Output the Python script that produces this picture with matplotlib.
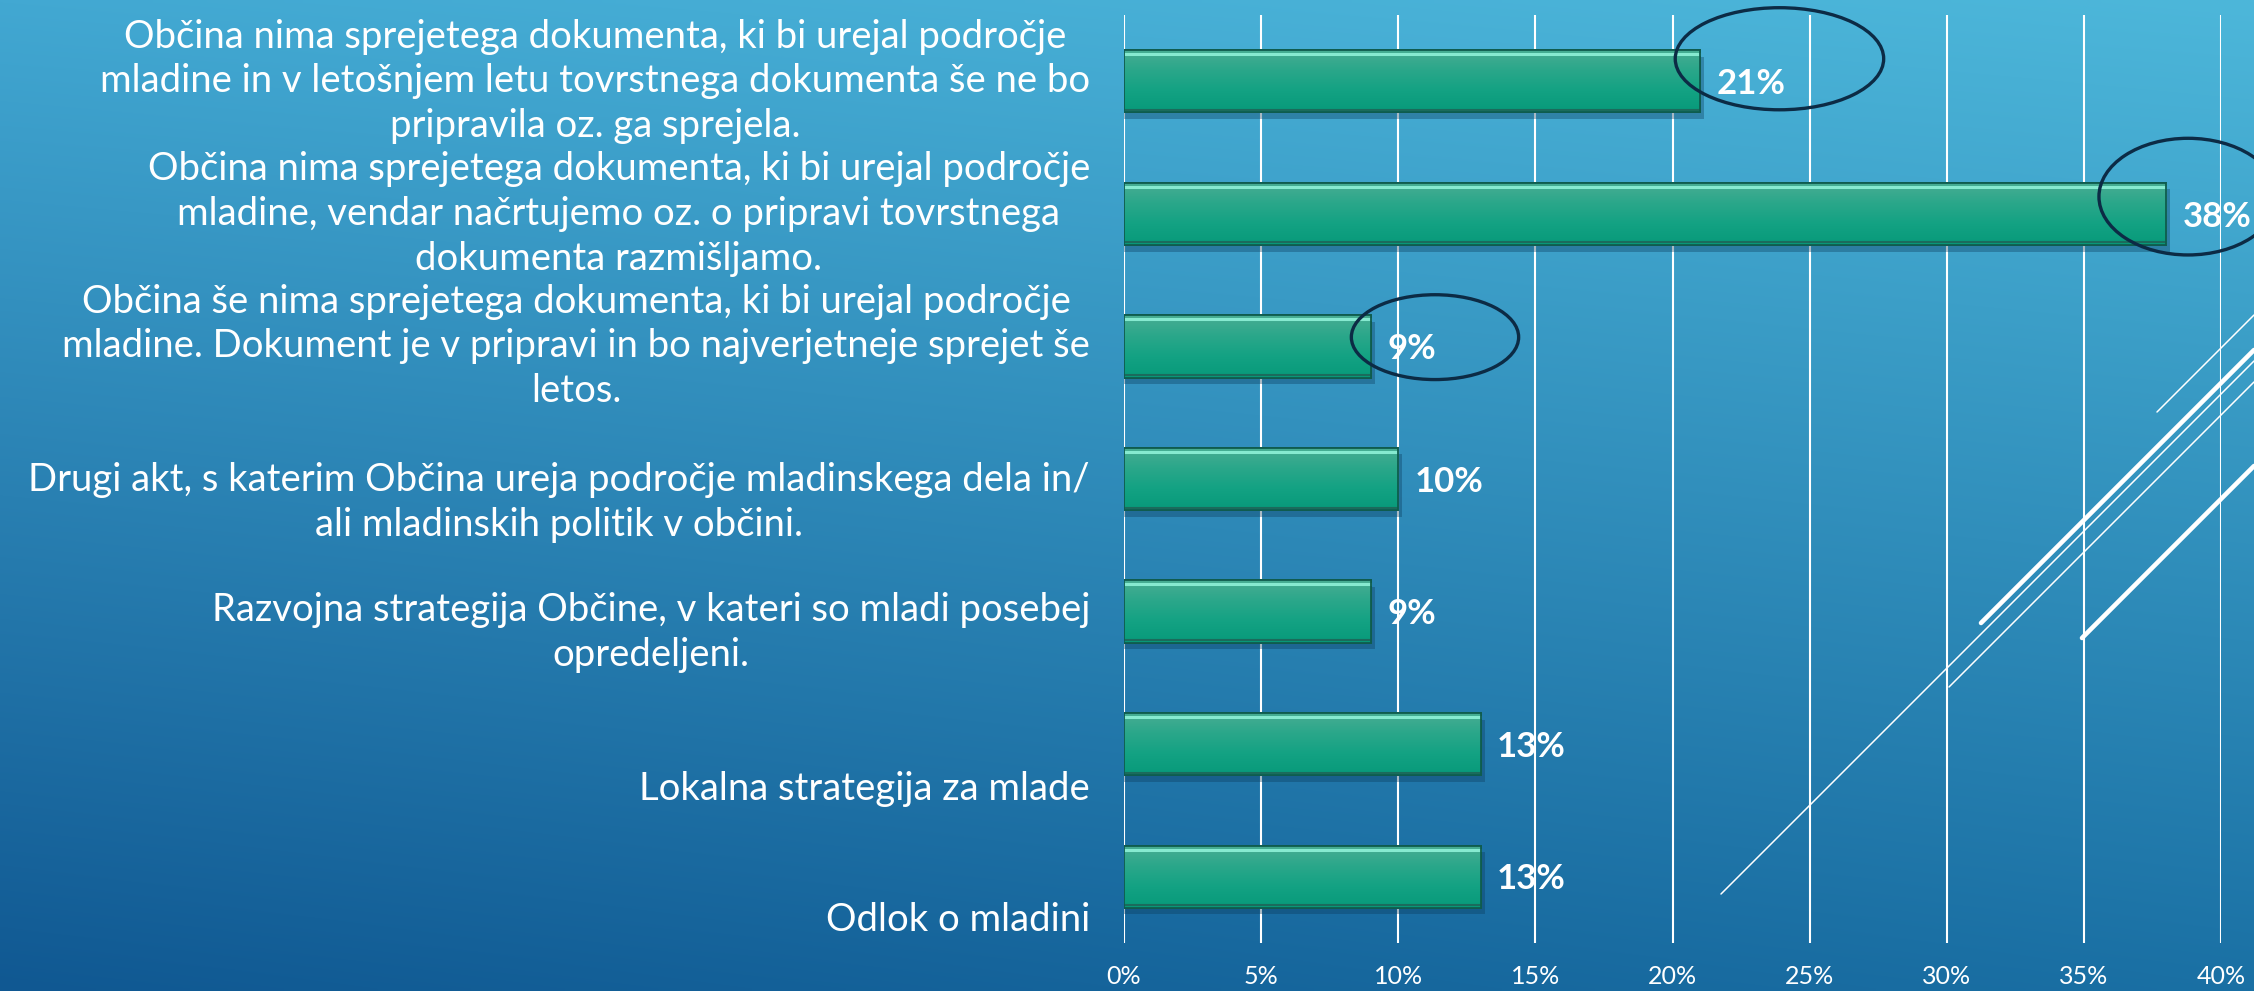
import numpy as np
import matplotlib
matplotlib.use('Agg')
import matplotlib.pyplot as plt
from matplotlib.patches import Ellipse
from matplotlib.colors import LinearSegmentedColormap
import matplotlib.transforms as mtransforms

# ── podatki ──────────────────────────────────────────────────────────────────
LABELS = [
    "Občina nima sprejetega dokumenta, ki bi urejal področje\n"
    "mladine in v letošnjem letu tovrstnega dokumenta še ne bo\n"
    "pripravila oz. ga sprejela.",
    "Občina nima sprejetega dokumenta, ki bi urejal področje\n"
    "mladine, vendar načrtujemo oz. o pripravi tovrstnega\n"
    "dokumenta razmišljamo.",
    "Občina še nima sprejetega dokumenta, ki bi urejal področje\n"
    "mladine. Dokument je v pripravi in bo najverjetneje sprejet še\n"
    "letos.",
    "Drugi akt, s katerim Občina ureja področje mladinskega dela in/\n"
    "ali mladinskih politik v občini.",
    "Razvojna strategija Občine, v kateri so mladi posebej\n"
    "opredeljeni.",
    "Lokalna strategija za mlade",
    "Odlok o mladini",
]
VALUES = [21, 38, 9, 10, 9, 13, 13]          # %
XTICKS = [0, 5, 10, 15, 20, 25, 30, 35, 40]
HIGHLIGHT = [0, 1, 2]                         # obkrožene vrednosti

# zamik oznak kategorij (v enotah kategorije), kot na prosojnici
LABEL_DY = [0.0, 0.0, 0.0, 0.175, 0.16, 0.34, 0.33]
# obroči: (središče x v %, zamik y, širina v %, višina)
RINGS = {0: (23.9, -0.17, 7.6, 0.77),
         1: (38.8, -0.13, 6.5, 0.88),
         2: (11.34, -0.07, 6.1, 0.64)}

FONT = 'Lato'
W, H = 2254, 991

fig = plt.figure(figsize=(W / 100, H / 100), dpi=100)

# ── ozadje: gradient + dekorativne črte ─────────────────────────────────────
bg = fig.add_axes([0, 0, 1, 1], zorder=0)
tl = np.array([0x42, 0xa8, 0xd2]) / 255
tr = np.array([0x4d, 0xb7, 0xda]) / 255
bl = np.array([0x10, 0x58, 0x92]) / 255
br = np.array([0x1a, 0x70, 0xa4]) / 255
yy, xx = np.mgrid[0:1:200j, 0:1:400j]
img = ((1 - yy)[..., None] * ((1 - xx)[..., None] * tl + xx[..., None] * tr)
       + yy[..., None] * ((1 - xx)[..., None] * bl + xx[..., None] * br))
bg.imshow(img, extent=(0, W, H, 0), aspect='auto', interpolation='bilinear')
deco = [((1721, 894), (2254, 361), 1.1),
        ((1981, 623), (2254, 350), 3.3),
        ((1949, 687), (2254, 382), 1.1),
        ((2082, 638), (2254, 466), 3.3),
        ((2157, 412), (2254, 315), 1.1)]
for (x0, y0), (x1, y1), lw in deco:
    bg.plot([x0, x1], [y0, y1], color='white', lw=lw, solid_capstyle='round')
bg.set_xlim(0, W)
bg.set_ylim(H, 0)
bg.axis('off')

# ── graf ─────────────────────────────────────────────────────────────────────
ax = fig.add_axes([1124 / W, 48 / H, (2221 - 1124) / W, (943 - 15) / H], zorder=1)
ax.patch.set_alpha(0)

bar_cmap = LinearSegmentedColormap.from_list(
    'bar', ['#48ad93', '#2aa78a', '#13a283', '#089a7a'])
grad = np.linspace(0, 1, 64)[:, None]
bh = 0.47
y = np.arange(len(VALUES))

for i, v in zip(y, VALUES):
    # senca
    ax.barh(i + 0.05, v + 0.15, height=bh, color='#0b3a5a', alpha=0.35,
            lw=0, zorder=2)
    b = ax.barh(i, v, height=bh, color='#12a080', edgecolor='#0f5c4e',
                lw=1.3, zorder=3)[0]
    im = ax.imshow(grad, extent=(0, v, i + bh / 2, i - bh / 2), cmap=bar_cmap,
                   aspect='auto', zorder=3.5, interpolation='bilinear')
    im.set_clip_path(b)
    ax.plot([0, v], [i - bh / 2 + 0.03] * 2, color='#86ead0', lw=2.2,
            zorder=4, solid_capstyle='butt')
    ax.plot([0, v], [i + bh / 2 - 0.02] * 2, color='#1b6b5c', lw=1.5,
            zorder=4, solid_capstyle='butt')
    ax.add_patch(plt.Rectangle((0, i - bh / 2), v, bh, fill=False,
                               ec='#0f5c4e', lw=1.3, zorder=4.5))
    ax.text(v + 0.6, i + 0.02, f'{v}%', va='center', ha='left', color='white',
            fontsize=25, fontweight='bold', family=FONT, zorder=6)

# obroči okoli izbranih vrednosti
for i in HIGHLIGHT:
    cx, dy, ew, eh = RINGS[i]
    ax.add_patch(Ellipse((cx, i + dy), ew, eh, fill=False,
                         ec='#0c2b45', lw=2.4, zorder=7, clip_on=False))

ax.set_xlim(0, 40)
ax.set_ylim(len(VALUES) - 0.5, -0.5)
ax.set_xticks(XTICKS)
ax.set_xticklabels([f'{t}%' for t in XTICKS], color='white', fontsize=18,
                   family=FONT)
ax.set_yticks([])
ax.tick_params(axis='x', length=0, pad=16)
ax.grid(axis='x', color='white', lw=1.5, zorder=1)
ax.set_axisbelow(True)
for s in ax.spines.values():
    s.set_visible(False)

trans = mtransforms.blended_transform_factory(ax.transAxes, ax.transData)
for i, (lab, dy) in enumerate(zip(LABELS, LABEL_DY)):
    ax.text(-0.031, i + dy, lab, transform=trans, ha='right', va='center',
            multialignment='center', color='white', fontsize=27.5,
            family=FONT, linespacing=1.3)

fig.savefig('out.png', dpi=100)
